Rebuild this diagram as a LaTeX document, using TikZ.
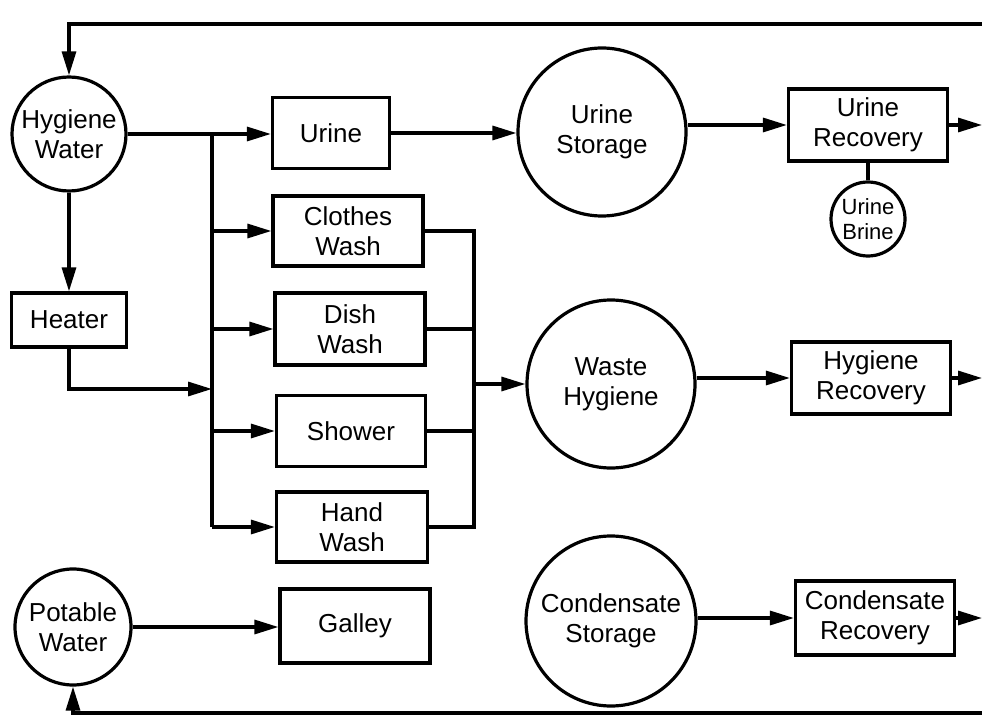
\documentclass[tikz,border=0pt]{standalone}
\usepackage{fontspec}
\setmainfont{Liberation Sans}
\usetikzlibrary{
  arrows.meta,
  calc,
  positioning
}
\tikzset{>={Triangle[length=24pt,width=14pt]}}

\begin{document}
\begin{tikzpicture}[x=1pt, y=-1pt, line width=3.2pt,
		unit/.style={draw, rectangle, align=center, inner sep=0pt,
			font=\fontsize{26}{30}\selectfont},
		tank/.style={draw, circle, align=center, inner sep=0pt,
			font=\fontsize{26}{30}\selectfont}]
	\useasboundingbox (0,0) rectangle (982,727);
	% tanks
	\node[tank, minimum size=114pt] (hygw) at (69,134) {Hygiene\\Water};
	\node[tank, minimum size=168pt] (urst) at (602,132) {Urine\\Storage};
	\node[tank, minimum size=74pt, font=\fontsize{22}{25}\selectfont] (brine) at (868,219) {Urine\\Brine};
	\node[tank, minimum size=168pt] (wahy) at (611,384) {Waste\\Hygiene};
	\node[tank, minimum size=116pt] (potw) at (73,627) {Potable\\Water};
	\node[tank, minimum size=170pt] (cost) at (611,621) {Condensate\\Storage};
	% units
	\node[unit, minimum width=117pt, minimum height=71pt] (urine) at (331,133) {Urine};
	\node[unit, minimum width=150pt, minimum height=70pt] (clothes) at (348,231) {Clothes\\Wash};
	\node[unit, minimum width=150pt, minimum height=72pt] (dish) at (350,329) {Dish\\Wash};
	\node[unit, minimum width=149pt, minimum height=71pt] (shower) at (351,431) {Shower};
	\node[unit, minimum width=151pt, minimum height=70pt] (hand) at (352,527) {Hand\\Wash};
	\node[unit, minimum width=150pt, minimum height=74pt] (galley) at (355,626) {Galley};
	\node[unit, minimum width=115pt, minimum height=54pt] (heater) at (69,320) {Heater};
	\node[unit, minimum width=159pt, minimum height=72pt] (urrec) at (868,125) {Urine\\Recovery};
	\node[unit, minimum width=159pt, minimum height=72pt] (hyrec) at (871,378) {Hygiene\\Recovery};
	\node[unit, minimum width=159pt, minimum height=74pt] (corec) at (875,618) {Condensate\\Recovery};
	% junctions and loose ends
	\coordinate (split) at (212,134);
	\coordinate (heatIn) at (212,389);
	\coordinate (merge) at (474,384);
	\coordinate (loopTop) at (982,24);
	\coordinate (loopBot) at (982,713);
	\coordinate (urOut) at (982,125);
	\coordinate (hyOut) at (982,378);
	\coordinate (coOut) at (982,618);
	% hygiene supply
	\draw[->] (loopTop) -| (hygw.north);
	\draw (hygw.east) -- (split);
	\draw[->] (split) -- (urine.west |- split);
	\draw (split) -- (split |- hand.west);
	\foreach \n in {clothes,dish,shower,hand}
		\draw[->] (split |- \n.west) -- (\n.west);
	\draw[->] (hygw.south) -- (heater.north);
	\draw[->] (heater.south) |- (heatIn);
	% waste collection
	\draw (clothes.east) -| (merge |- hand.east) -- (hand.east);
	\draw (dish.east) -- (merge |- dish.east);
	\draw (shower.east) -- (merge |- shower.east);
	\draw[->] (merge) -- (wahy.west);
	\draw[->] (urine.east) -- (urst.west |- urine.east);
	\draw[->] (urst.east |- urrec.west) -- (urrec.west);
	\draw (urrec.south) -- (brine.north);
	\draw[->] (wahy.east |- hyrec.west) -- (hyrec.west);
	\draw[->] (cost.east |- corec.west) -- (corec.west);
	% recovered water
	\draw[->] (urrec.east) -- (urOut);
	\draw[->] (hyrec.east) -- (hyOut);
	\draw[->] (corec.east) -- (coOut);
	% potable supply
	\draw[->] (loopBot) -| (potw.south);
	\draw[->] (potw.east) -- (galley.west |- potw.east);
\end{tikzpicture}
\end{document}
